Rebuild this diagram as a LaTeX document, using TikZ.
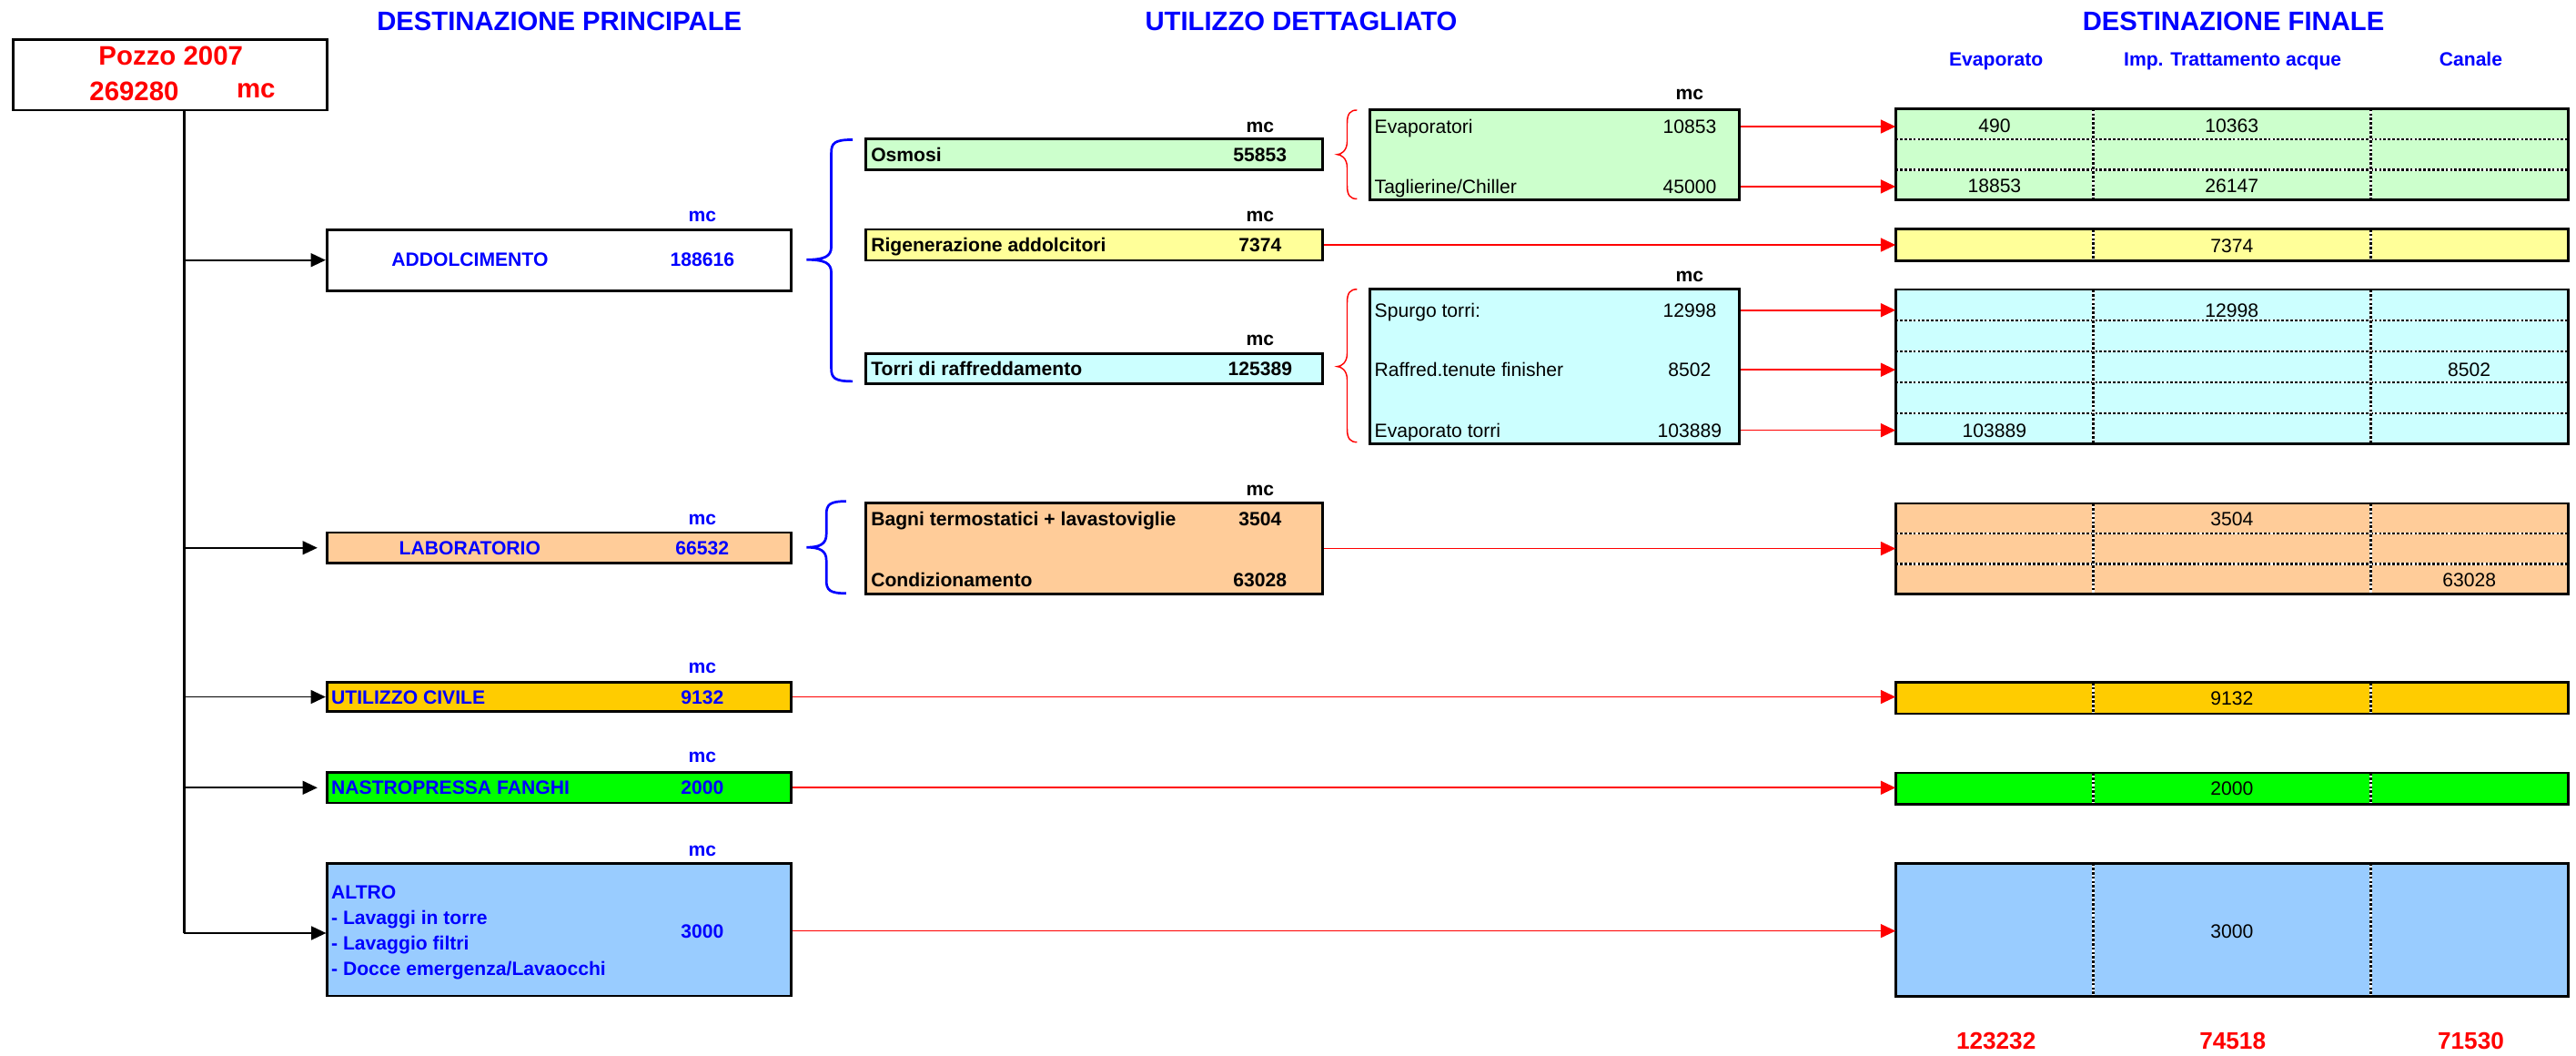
\documentclass[tikz,border=0pt]{standalone}
\usepackage{fontspec}
\setmainfont{Liberation Sans}
\usetikzlibrary{arrows.meta,calc}
\definecolor{xblue}{RGB}{0,0,255}
\definecolor{xred}{RGB}{255,0,0}
\definecolor{cgreen}{HTML}{CCFFCC}
\definecolor{cyellow}{HTML}{FFFF99}
\definecolor{ccyan}{HTML}{CCFFFF}
\definecolor{cpeach}{HTML}{FFCC99}
\definecolor{corange}{HTML}{FFCC00}
\definecolor{clime}{HTML}{00FF00}
\definecolor{clblue}{HTML}{99CCFF}
\newcommand{\fsz}{\fontsize{11.7}{14}\selectfont}
\newcommand{\curlybr}[7]{%
 \draw[#1] (#4,#5) .. controls ({#3+2},#5) and (#3,{#5+2}) .. (#3,{#5+8}) -- (#3,{#6-8})
  .. controls (#3,{#6-2}) and ({#3-4},#6) .. (#2,#6)
  .. controls ({#3-4},#6) and (#3,{#6+2}) .. (#3,{#6+8}) -- (#3,{#7-8})
  .. controls (#3,{#7-2}) and ({#3+2},#7) .. (#4,#7);}
\newcommand{\hdivs}[2]{%
 \foreach \f in {#2} {%
  \draw[wline] ($(#1.north west)!\f!(#1.south west)$) -- ($(#1.north east)!\f!(#1.south east)$);
  \draw[dline] ($(#1.north west)!\f!(#1.south west)$) -- ($(#1.north east)!\f!(#1.south east)$);}}
\newcommand{\vdivs}[1]{%
 \foreach \c in {v1,v2} {%
  \draw[wline, line width=1.6pt] (#1.north -| \c) -- (#1.south -| \c);
  \draw[dline, line width=1.6pt] (#1.north -| \c) -- (#1.south -| \c);}
 \draw[border] (#1.south west) rectangle (#1.north east);}
\begin{document}
\begin{tikzpicture}[x=1pt,y=-1pt,
  bx/.style={draw=black, line width=1.6pt, rectangle, inner sep=0pt},
  fb/.style={rectangle, inner sep=0pt, draw=none, minimum width=409pt},
  border/.style={draw=black, line width=1.6pt},
  wline/.style={white, line width=1.3pt},
  dline/.style={black, line width=1.3pt, dash pattern=on 1.5pt off 1.2pt},
  tx/.style={inner sep=0pt, font=\fsz, text height=8.4pt, text depth=0pt},
  tb/.style={tx, font=\fsz\bfseries},
  tbb/.style={tb, text=xblue},
  mcl/.style={inner sep=0pt, font=\fsz\bfseries, text height=6.1pt, text depth=0pt},
  mcb/.style={mcl, text=xblue},
  hd/.style={inner sep=0pt, font=\fontsize{16.2}{19}\selectfont\bfseries, text=xblue, text height=11.6pt, text depth=0pt},
  pz/.style={inner sep=0pt, font=\fontsize{16.3}{19}\selectfont\bfseries, text=xred, text height=11.7pt, text depth=0pt},
  tot/.style={inner sep=0pt, font=\fontsize{14.5}{17}\selectfont\bfseries, text=xred, text height=10.4pt, text depth=0pt},
  trunk/.style={black, line width=1.5pt},
  barr/.style={black, line width=0.9pt, -{Triangle[length=9pt,width=8.3pt]}},
  rarr/.style={xred, line width=0.9pt, -{Triangle[length=9pt,width=8.3pt]}},
  bbrace/.style={xblue, line width=1.5pt},
  rbrace/.style={xred, line width=0.8pt},
  main/.style={bx, minimum width=282.5pt},
  mid/.style={bx, minimum width=278pt},
  det/.style={bx, minimum width=224.5pt}
]
\useasboundingbox (0,0) rectangle (1568,642);
\fill[white] (0,0) rectangle (1568,642);

% headings
\node[hd] (h1) at (340.5,13) {DESTINAZIONE PRINCIPALE};
\node[hd] (h2) at (792,13) {UTILIZZO DETTAGLIATO};
\node[hd] (h3) at (1359.5,13) {DESTINAZIONE FINALE};
\node[tbb] (s1) at (1215,36) {Evaporato};
\node[tbb] (s2) at (1359,36) {Imp. Trattamento acque};
\node[tbb] (s3) at (1504,36) {Canale};

% source
\node[bx, fill=white, minimum width=191pt, minimum height=43pt] (pozzo) at (103.5,45.5) {};
\node[pz] (pzt) at (104,34) {Pozzo 2007};
\node[pz] (pzn) at (81.7,55.4) {269280};
\node[pz, text height=8.5pt] (pzu) at (155.8,55.4) {mc};

% main boxes
\node[main, fill=white, minimum height=37pt] (addolc) at (340.25,158.25) {};
\node[main, fill=cpeach, minimum height=18.6pt] (lab) at (340.25,333.3) {};
\node[main, fill=corange, minimum height=18pt] (civ) at (340.25,424) {};
\node[main, fill=clime, minimum height=18.5pt] (nas) at (340.25,479.25) {};
\node[main, fill=clblue, minimum height=80.6pt] (altro) at (340.25,565.6) {};

\node[tbb] (addt) at (286,158) {ADDOLCIMENTO};
\node[tbb] (addn) at (427.5,158) {188616};
\node[mcb] (addm) at (427.5,132) {mc};
\node[tbb] (labt) at (286,333.5) {LABORATORIO};
\node[tbb] (labn) at (427.5,333.5) {66532};
\node[mcb] (labm) at (427.5,316) {mc};
\node[tbb, anchor=west] (civt) at (201.5,424) {UTILIZZO CIVILE};
\node[tbb] (civn) at (427.5,424) {9132};
\node[mcb] (civm) at (427.5,406.5) {mc};
\node[tbb, anchor=west] (nast) at (201.5,479) {NASTROPRESSA FANGHI};
\node[tbb] (nasn) at (427.5,479) {2000};
\node[mcb] (nasm) at (427.5,461) {mc};
\node[tbb, anchor=west] (alt1) at (201.5,542.8) {ALTRO};
\node[tbb, anchor=west] (alt2) at (201.5,558.5) {- Lavaggi in torre};
\node[tbb, anchor=west] (alt3) at (201.5,573.8) {- Lavaggio filtri};
\node[tbb, anchor=west] (alt4) at (201.5,589.3) {- Docce emergenza/Lavaocchi};
\node[tbb] (altn) at (427.5,566.4) {3000};
\node[mcb] (altm) at (427.5,518) {mc};

% trunk and black arrows
\coordinate (trx) at (112,0);
\coordinate (altin) at (198.5,567.7);
\draw[trunk] (pozzo.south -| trx) -- (altin -| trx);
\draw[barr] (altin -| trx) -- (altin);
\draw[barr] (addolc.west -| trx) -- (addolc.west);
\draw[barr, shorten >=5pt] (lab.west -| trx) -- (lab.west);
\draw[barr] (civ.west -| trx) -- (civ.west);
\draw[barr, shorten >=5pt] (nas.west -| trx) -- (nas.west);

% blue braces
\curlybr{bbrace}{491}{506}{519}{85}{158}{232}
\curlybr{bbrace}{491}{503}{515}{305}{333}{361}

% middle boxes
\node[mid, fill=cgreen, minimum height=18.8pt] (osm) at (666,94) {};
\node[mid, fill=cyellow, minimum height=18.8pt] (rig) at (666,149) {};
\node[mid, fill=ccyan, minimum height=18.5pt] (tor) at (666,224.25) {};
\node[mid, fill=cpeach, minimum height=55.5pt] (bag) at (666,333.75) {};

\node[tb, anchor=west] (osmt) at (530,94) {Osmosi};
\node[tb] (osmn) at (767,94) {55853};
\node[mcl] (osmm) at (767,77.5) {mc};
\node[tb, anchor=west] (rigt) at (530,149) {Rigenerazione addolcitori};
\node[tb] (rign) at (767,149) {7374};
\node[mcl] (rigm) at (767,132) {mc};
\node[tb, anchor=west] (tort) at (530,224.5) {Torri di raffreddamento};
\node[tb] (torn) at (767,224.5) {125389};
\node[mcl] (torm) at (767,207) {mc};
\node[tb, anchor=west] (bag1) at (530,315.7) {Bagni termostatici + lavastoviglie};
\node[tb] (bagn1) at (767,315.7) {3504};
\node[tb, anchor=west] (bag2) at (530,352.6) {Condizionamento};
\node[tb] (bagn2) at (767,352.6) {63028};
\node[mcl] (bagm) at (767,298.6) {mc};

% red braces
\curlybr{rbrace}{814}{820}{826}{67}{94}{121}
\curlybr{rbrace}{814}{820}{826}{176}{223}{269}

% detail boxes
\node[det, fill=cgreen, minimum height=55pt] (detg) at (946.25,94) {};
\node[det, fill=ccyan, minimum height=94pt] (detc) at (946.25,223) {};
\node[tx, anchor=west] (ev) at (836.5,77) {Evaporatori};
\node[tx] (evn) at (1028.5,77) {10853};
\node[tx, anchor=west] (ta) at (836.5,113.5) {Taglierine/Chiller};
\node[tx] (tan) at (1028.5,113.5) {45000};
\node[mcl] (detgm) at (1028.5,57.6) {mc};
\node[tx, anchor=west] (sp) at (836.5,188.7) {Spurgo torri:};
\node[tx] (spn) at (1028.5,188.7) {12998};
\node[tx, anchor=west] (ra) at (836.5,225) {Raffred.tenute finisher};
\node[tx] (ran) at (1028.5,225) {8502};
\node[tx, anchor=west] (et) at (836.5,261.8) {Evaporato torri};
\node[tx] (etn) at (1028.5,261.8) {103889};
\node[mcl] (detcm) at (1028.5,168.4) {mc};

% destination boxes
\coordinate (v1) at (1274,0);
\coordinate (v2) at (1443,0);
\node[fb, fill=cgreen, minimum height=55pt] (dg) at (1358.5,94) {};
\node[fb, fill=cyellow, minimum height=18.6pt] (dy) at (1358.5,149) {};
\node[fb, fill=ccyan, minimum height=93.7pt] (dc) at (1358.5,223.15) {};
\node[fb, fill=cpeach, minimum height=54.8pt] (dp) at (1358.5,333.9) {};
\node[fb, fill=corange, minimum height=18.5pt] (do) at (1358.5,424.75) {};
\node[fb, fill=clime, minimum height=18.6pt] (dl) at (1358.5,479.7) {};
\node[fb, fill=clblue, minimum height=80.6pt] (db) at (1358.5,565.6) {};
\hdivs{dg}{0.3333,0.6667}
\hdivs{dc}{0.2,0.4,0.6,0.8}
\hdivs{dp}{0.3333,0.6667}
\vdivs{dg}
\vdivs{dy}
\vdivs{dc}
\vdivs{dp}
\vdivs{do}
\vdivs{dl}
\vdivs{db}

\node[tx] (dg1) at (1214,76.6) {490};
\node[tx] (dg2) at (1358.5,76.6) {10363};
\node[tx] (dg3) at (1214,113) {18853};
\node[tx] (dg4) at (1358.5,113) {26147};
\node[tx] (dy1) at (1358.5,149.5) {7374};
\node[tx] (dc1) at (1358.5,188.7) {12998};
\node[tx] (dc2) at (1503,225) {8502};
\node[tx] (dc3) at (1214,261.8) {103889};
\node[tx] (dp1) at (1358.5,315.7) {3504};
\node[tx] (dp2) at (1503,352.6) {63028};
\node[tx] (do1) at (1358.5,424.5) {9132};
\node[tx] (dl1) at (1358.5,479.5) {2000};
\node[tx] (db1) at (1358.5,566.4) {3000};

\node[tot] (t1) at (1215,633) {123232};
\node[tot] (t2) at (1359,633) {74518};
\node[tot] (t3) at (1504,633) {71530};

% red arrows
\draw[rarr] (ev -| detg.east) -- (ev -| dg.west);
\draw[rarr] (ta -| detg.east) -- (ta -| dg.west);
\draw[rarr] (rig.east) -- (rig.east -| dy.west);
\draw[rarr] (sp -| detc.east) -- (sp -| dc.west);
\draw[rarr] (ra -| detc.east) -- (ra -| dc.west);
\draw[rarr] (et -| detc.east) -- (et -| dc.west);
\draw[rarr] (bag.east) -- (bag.east -| dp.west);
\draw[rarr] (civ.east) -- (civ.east -| do.west);
\draw[rarr] (nas.east) -- (nas.east -| dl.west);
\draw[rarr] (altn -| altro.east) -- (altn -| db.west);
\end{tikzpicture}
\end{document}
